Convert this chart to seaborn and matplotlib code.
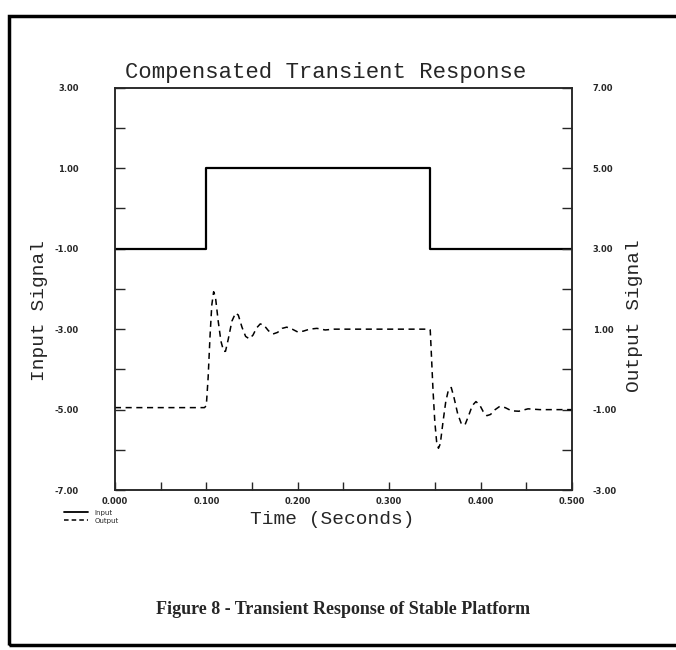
import numpy as np
import pandas as pd
import matplotlib.pyplot as plt
import matplotlib.patches as mpatches
from matplotlib.lines import Line2D
import seaborn as sns

# input step signal (left axis)
input_time = [0.000, 0.100, 0.100, 0.345, 0.345, 0.500]
input_value = [-1.0, -1.0, 1.0, 1.0, -1.0, -1.0]

# output response (right axis)
output_time = [0.000, 0.098, 0.100, 0.102, 0.104, 0.106, 0.108, 0.110, 0.113, 0.116,
               0.119, 0.121, 0.124, 0.128, 0.132, 0.135, 0.139, 0.143, 0.147, 0.151,
               0.155, 0.159, 0.163, 0.168, 0.173, 0.178, 0.183, 0.188, 0.194, 0.200,
               0.206, 0.213, 0.221, 0.230, 0.240, 0.344,
               0.345, 0.346, 0.348, 0.350, 0.352, 0.354, 0.356, 0.359, 0.362, 0.365,
               0.368, 0.371, 0.375, 0.379, 0.383, 0.387, 0.391, 0.395, 0.399, 0.403,
               0.407, 0.411, 0.416, 0.421, 0.427, 0.434, 0.442, 0.452, 0.465, 0.500]
output_value = [-0.95, -0.95, -0.90, -0.20, 0.80, 1.60, 1.93, 1.80, 1.20, 0.70,
                0.45, 0.45, 0.75, 1.20, 1.40, 1.35, 1.05, 0.82, 0.76, 0.85,
                1.03, 1.13, 1.10, 0.96, 0.88, 0.92, 1.02, 1.05, 1.00, 0.93,
                0.95, 1.00, 1.02, 0.98, 1.00, 1.00,
                0.98, 0.50, -0.50, -1.30, -1.80, -1.96, -1.85, -1.30, -0.80, -0.50,
                -0.45, -0.70, -1.10, -1.35, -1.38, -1.15, -0.90, -0.80, -0.88, -1.05,
                -1.15, -1.12, -1.00, -0.92, -0.95, -1.03, -1.04, -0.98, -1.00, -1.00]

left_ticks = [3, 1, -1, -3, -5, -7]
right_ticks = [7, 5, 3, 1, -1, -3]
x_ticks = [0.0, 0.1, 0.2, 0.3, 0.4, 0.5]

df_in = pd.DataFrame({"Time": input_time, "Signal": input_value})
df_out = pd.DataFrame({"Time": output_time, "Signal": output_value})

sns.set_style("ticks")
plt.rcParams["font.family"] = ["DejaVu Sans"]
mono = "Liberation Mono"

fig = plt.figure(figsize=(6.76, 6.5), dpi=100)
ax = fig.add_axes([0.170, 0.246, 0.676, 0.619])
ax2 = ax.twinx()

sns.lineplot(data=df_in, x="Time", y="Signal", ax=ax, estimator=None, sort=False,
             color="black", linewidth=1.6)
sns.lineplot(data=df_out, x="Time", y="Signal", ax=ax2, estimator=None, sort=False,
             color="black", linewidth=1.1, linestyle=(0, (4, 3)))

ax.set_xlim(0, 0.5)
ax.set_ylim(-7, 3)
ax2.set_ylim(-3, 7)

ax.set_xticks(x_ticks)
ax.set_xticks(np.arange(0, 0.501, 0.05), minor=True)
ax.set_xticklabels([f"{t:.3f}" for t in x_ticks], fontsize=6, fontweight="bold")
ax.set_yticks(left_ticks)
ax.set_yticks(range(-6, 3, 2), minor=True)
ax.set_yticklabels([f"{t:.2f}" for t in left_ticks], fontsize=6, fontweight="bold")
ax2.set_yticks(right_ticks)
ax2.set_yticks(range(-2, 7, 2), minor=True)
ax2.set_yticklabels([f"{t:.2f}" for t in right_ticks], fontsize=6, fontweight="bold")

ax.tick_params(axis="x", which="both", direction="in", length=6, width=1.0, pad=5)
ax.tick_params(axis="y", which="both", direction="in", length=7, width=1.0, pad=26)
ax2.tick_params(axis="y", which="both", direction="in", length=7, width=1.0, pad=15)

for a in (ax, ax2):
    for s in a.spines.values():
        s.set_visible(True)
        s.set_linewidth(1.1)
    a.set_xlabel("")
    a.set_ylabel("")

fig.text(0.481, 0.889, "Compensated Transient Response", family=mono, fontsize=16,
         ha="center", va="center")
fig.text(0.491, 0.200, "Time (Seconds)", family=mono, fontsize=14, ha="center", va="center")
fig.text(0.058, 0.523, "Input Signal", family=mono, fontsize=14, rotation=90,
         ha="center", va="center")
fig.text(0.939, 0.515, "Output Signal", family=mono, fontsize=14, rotation=90,
         ha="center", va="center")

handles = [Line2D([], [], color="black", linewidth=1.3),
           Line2D([], [], color="black", linewidth=1.1, linestyle=(0, (3, 2)))]
fig.legend(handles, ["Input", "Output"], loc="upper left", bbox_to_anchor=(0.090, 0.221),
           frameon=False, fontsize=5, handlelength=3.4, labelspacing=0.25,
           handletextpad=1.0, borderpad=0)

fig.text(0.508, 0.062, "Figure 8 - Transient Response of Stable Platform",
         family="Liberation Serif", fontweight="bold", fontsize=13, ha="center", va="center")

# page frame (open on the right side)
frame = mpatches.Rectangle((0.014, 0.008), 1.1, 0.968, transform=fig.transFigure,
                           fill=False, edgecolor="black", linewidth=2.5, clip_on=False)
fig.patches.append(frame)

fig.savefig("out.png", dpi=100)
